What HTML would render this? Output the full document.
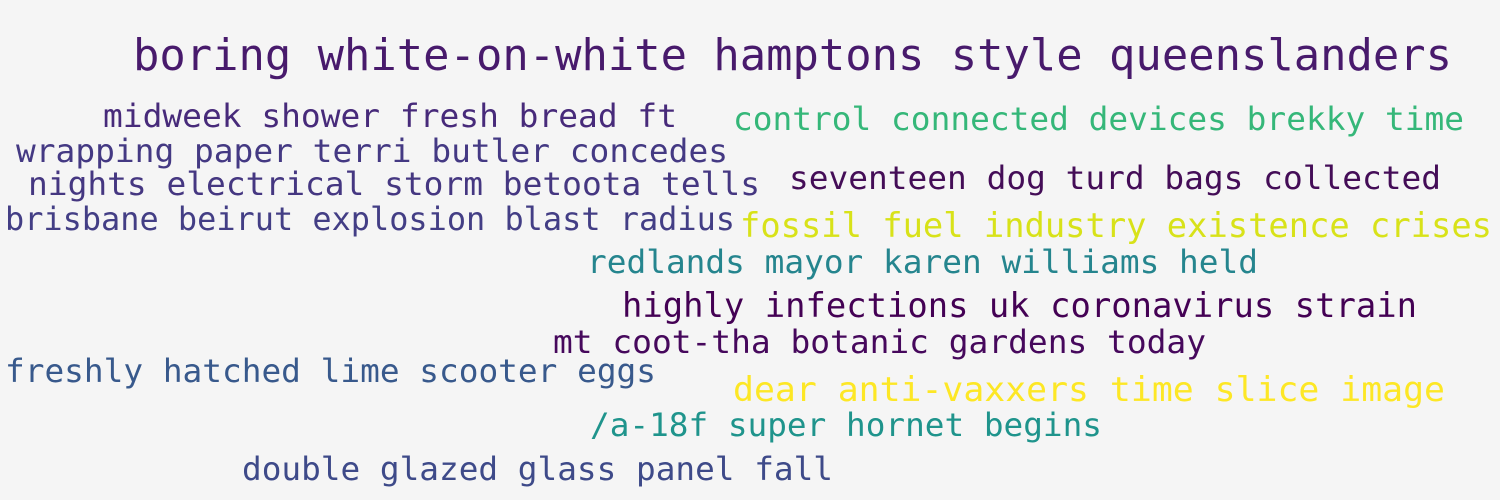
<!DOCTYPE html>
<html><head><meta charset="utf-8"><style>
html,body{margin:0;padding:0;background:#f5f5f5;}
svg{display:block}
text{font-family:"DejaVu Sans Mono","Liberation Mono",monospace;}
</style></head><body>
<svg width="1500" height="500" xmlns="http://www.w3.org/2000/svg">
<rect width="1500" height="500" fill="#f5f5f5"/>
<g>
<text x="133" y="70" font-size="44" fill="#481a6c" textLength="1319" lengthAdjust="spacingAndGlyphs">boring white-on-white hamptons style queenslanders</text>
<text x="103" y="127" font-size="32" fill="#472a7a" textLength="574" lengthAdjust="spacingAndGlyphs">midweek shower fresh bread ft</text>
<text x="733" y="130" font-size="32" fill="#35b779" textLength="731" lengthAdjust="spacingAndGlyphs">control connected devices brekky time</text>
<text x="16" y="162" font-size="32" fill="#443983" textLength="712" lengthAdjust="spacingAndGlyphs">wrapping paper terri butler concedes</text>
<text x="28" y="195" font-size="32" fill="#453781" textLength="732" lengthAdjust="spacingAndGlyphs">nights electrical storm betoota tells</text>
<text x="789" y="189" font-size="32" fill="#440d57" textLength="652" lengthAdjust="spacingAndGlyphs">seventeen dog turd bags collected</text>
<text x="5" y="230" font-size="32" fill="#433e85" textLength="730" lengthAdjust="spacingAndGlyphs">brisbane beirut explosion blast radius</text>
<text x="740" y="237" font-size="34" fill="#d8e219" textLength="752" lengthAdjust="spacingAndGlyphs">fossil fuel industry existence crises</text>
<text x="587" y="273" font-size="32" fill="#25858e" textLength="671" lengthAdjust="spacingAndGlyphs">redlands mayor karen williams held</text>
<text x="622" y="317" font-size="34" fill="#440154" textLength="795" lengthAdjust="spacingAndGlyphs">highly infections uk coronavirus strain</text>
<text x="553" y="353" font-size="32" fill="#46085c" textLength="653" lengthAdjust="spacingAndGlyphs">mt coot-tha botanic gardens today</text>
<text x="5" y="382" font-size="32" fill="#38598c" textLength="651" lengthAdjust="spacingAndGlyphs">freshly hatched lime scooter eggs</text>
<text x="733" y="401" font-size="34" fill="#fde725" textLength="712" lengthAdjust="spacingAndGlyphs">dear anti-vaxxers time slice image</text>
<text x="590" y="436" font-size="32" fill="#1f948c" textLength="512" lengthAdjust="spacingAndGlyphs">/a-18f super hornet begins</text>
<text x="242" y="480" font-size="32" fill="#3e4a89" textLength="591" lengthAdjust="spacingAndGlyphs">double glazed glass panel fall</text>
</g>
</svg>
</body></html>
